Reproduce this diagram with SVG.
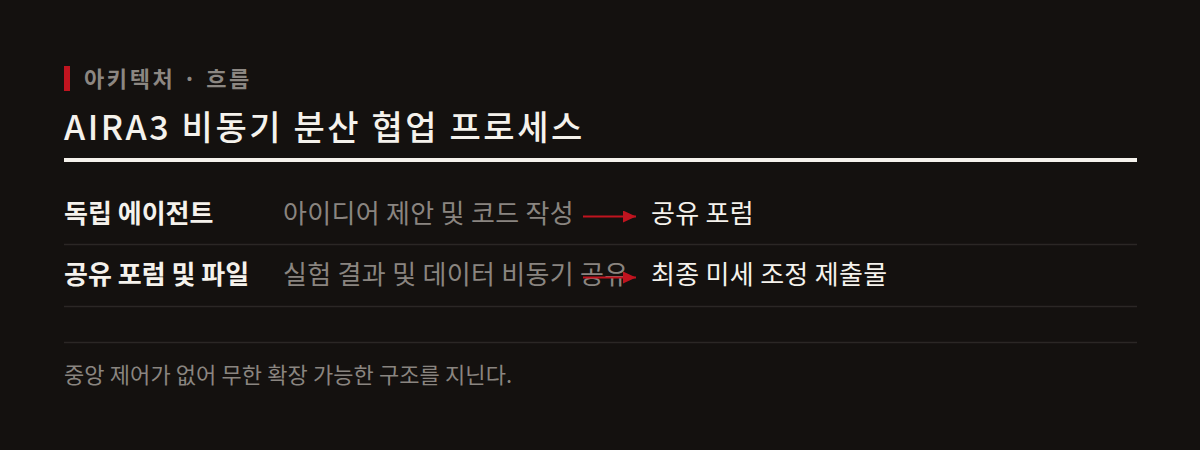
<svg xmlns="http://www.w3.org/2000/svg" width="1200" height="450" viewBox="0 0 1200 450">
  <style>
    text { font-family: "Noto Sans CJK KR", "Noto Sans", sans-serif; }
    .kicker { font-size: 22px; font-weight: 700; fill: #8c8782; letter-spacing: 2.6px; }
    .title { font-size: 34px; font-weight: 500; fill: #f5f2ec; letter-spacing: 2.6px; }
    .label { font-size: 26px; font-weight: 700; fill: #f5f2ec; }
    .desc { font-size: 26px; font-weight: 400; fill: #8a8580; letter-spacing: 0.3px; }
    .target { font-size: 26px; font-weight: 400; fill: #f5f2ec; letter-spacing: 0.3px; }
    .foot { font-size: 22px; font-weight: 400; fill: #8a8580; letter-spacing: 0.1px; }
    .div { stroke: #2b2725; stroke-width: 1.5; }
    .arrow { stroke: #c0141f; stroke-width: 2; fill: none; }
  </style>
  <defs>
    <marker id="ah" markerWidth="13" markerHeight="12" refX="13" refY="6" orient="auto" markerUnits="userSpaceOnUse">
      <path d="M0,0 L13,6 L0,12 Z" fill="#c0141f"/>
    </marker>
  </defs>
  <rect x="0" y="0" width="1200" height="450" fill="#14110f"/>
  <g id="header">
    <rect x="64" y="66" width="6" height="25" fill="#c0141f"/>
    <text class="kicker" x="84" y="87">아키텍처 · 흐름</text>
    <text class="title" x="64" y="140">AIRA3 비동기 분산 협업 프로세스</text>
    <rect x="64" y="158" width="1073" height="4" fill="#f5f2ec"/>
  </g>
  <g id="dividers">
    <line class="div" x1="64" y1="244.5" x2="1137" y2="244.5"/>
    <line class="div" x1="64" y1="306.5" x2="1137" y2="306.5"/>
    <line class="div" x1="64" y1="342.5" x2="1137" y2="342.5"/>
  </g>
  <g id="row1">
    <text class="label" x="64" y="223">독립 에이전트</text>
    <text class="desc" x="283" y="223">아이디어 제안 및 코드 작성</text>
  </g>
  <g id="forum">
    <text class="target" x="651" y="223">공유 포럼</text>
  </g>
  <g id="row2">
    <text class="label" x="64" y="284">공유 포럼 및 파일</text>
    <text class="desc" x="283" y="284">실험 결과 및 데이터 비동기 공유</text>
  </g>
  <g id="final">
    <text class="target" x="651" y="284">최종 미세 조정 제출물</text>
  </g>
  <g id="connectors">
    <line class="arrow" x1="583" y1="216.5" x2="636" y2="216.5" marker-end="url(#ah)"/>
    <line class="arrow" x1="583" y1="277.5" x2="636" y2="277.5" marker-end="url(#ah)"/>
  </g>
  <g id="footer">
    <text class="foot" x="64" y="383">중앙 제어가 없어 무한 확장 가능한 구조를 지닌다.</text>
  </g>
</svg>
